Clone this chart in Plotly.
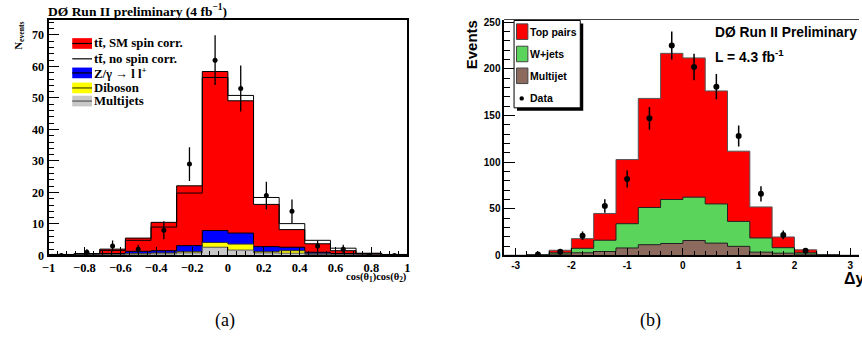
import numpy as np
import plotly.graph_objects as go

W, H = 862, 343

# ---------------- Panel (a): cos(theta1)cos(theta2) ----------------
a_edges = list(np.linspace(-1.0, 1.0, 15))
a_multijet = [0.1, 0.1, 0.2, 0.4, 0.5, 0.8, 2.6, 1.7, 0.8, 0.7, 0.3, 0.2, 0.1, 0.05]
a_diboson  = [0.0, 0.0, 0.1, 0.2, 0.3, 0.4, 1.5, 1.9, 0.4, 0.8, 0.2, 0.1, 0.0, 0.0]
a_zll      = [0.1, 0.2, 0.3, 0.7, 0.7, 1.9, 3.8, 3.5, 1.6, 1.1, 0.5, 0.3, 0.1, 0.1]
a_tt_sm    = [0.1, 0.2, 1.4, 4.2, 9.0, 19.0, 50.5, 42.0, 13.4, 5.6, 2.7, 0.9, 0.4, 0.15]
a_tt_nosc  = [0.1, 0.3, 1.0, 3.5, 7.5, 16.7, 48.6, 43.7, 15.6, 7.5, 3.8, 1.7, 0.5, 0.15]
a_data     = [0, 1, 3, 2, 8, 29, 62, 53, 19, 14, 3, 2, 0, 0]

# ---------------- Panel (b): Delta y ----------------
b_edges = list(np.linspace(-3.2, 3.2, 17))
b_multijet = [0, 0.3, 1.5, 2.8, 4.2, 8.0, 11.5, 12.8, 16.0, 13.2, 9.7, 3.5, 2.4, 1.4, 0.3, 0]
b_wjets    = [0, 0.3, 1.3, 4.8, 12.1, 26.0, 39.9, 47.2, 46.5, 42.0, 26.8, 15.2, 5.9, 1.4, 0.3, 0]
b_top      = [0, 0.2, 2.7, 10.4, 28.7, 68.8, 117.0, 156.7, 149.3, 121.2, 75.3, 33.3, 11.5, 3.2, 0.2, 0]
b_data     = [0, 1, 4, 21, 53, 82, 147, 225, 202, 181, 128, 66, 22, 5, 0, 0]

SERIF = "Liberation Serif"
SANS = "Liberation Sans"


def step_xy(edges, vals):
    n = len(vals)
    x = [edges[0]] + list(edges[:n]) + [edges[n], edges[n]]
    y = [0] + list(vals) + [vals[-1], 0]
    return x, y


def cum(*arrs):
    return list(np.sum(np.array(arrs, dtype=float), axis=0))


def centers(edges):
    e = np.array(edges)
    return list((e[:-1] + e[1:]) / 2)


fig = go.Figure()

# ---- panel (a) stack ----
a_stack = [
    (cum(a_multijet, a_diboson, a_zll, a_tt_sm), "#ff0000", "black"),
    (cum(a_multijet, a_diboson, a_zll), "#0000ff", "black"),
    (cum(a_multijet, a_diboson), "#ffff00", "#333333"),
    (cum(a_multijet), "#c8c8c8", "#555555"),
]
for vals, fc, lc in a_stack:
    x, y = step_xy(a_edges, vals)
    fig.add_trace(go.Scatter(x=x, y=y, mode="lines", line=dict(shape="hv", color=lc, width=1),
                             fill="toself", fillcolor=fc, xaxis="x", yaxis="y",
                             showlegend=False, hoverinfo="skip"))
x, y = step_xy(a_edges, cum(a_multijet, a_diboson, a_zll, a_tt_nosc))
fig.add_trace(go.Scatter(x=x, y=y, mode="lines", line=dict(shape="hv", color="black", width=1),
                         xaxis="x", yaxis="y", showlegend=False, hoverinfo="skip"))
fig.add_trace(go.Scatter(x=centers(a_edges), y=a_data, mode="markers",
                         marker=dict(color="black", size=5),
                         error_y=dict(type="data", array=list(np.sqrt(a_data)), width=0,
                                      thickness=1.3, color="black"),
                         xaxis="x", yaxis="y", showlegend=False))

# ---- panel (b) stack ----
b_stack = [
    (cum(b_multijet, b_wjets, b_top), "#ff0000", "#555555"),
    (cum(b_multijet, b_wjets), "#5ad45a", "#222222"),
    (cum(b_multijet), "#8c6b5e", "#222222"),
]
for vals, fc, lc in b_stack:
    x, y = step_xy(b_edges, vals)
    fig.add_trace(go.Scatter(x=x, y=y, mode="lines", line=dict(shape="hv", color=lc, width=1),
                             fill="toself", fillcolor=fc, xaxis="x2", yaxis="y2",
                             showlegend=False, hoverinfo="skip"))
bc = centers(b_edges)
bx = [c for c, d in zip(bc, b_data) if d > 0]
bd = [d for d in b_data if d > 0]
fig.add_trace(go.Scatter(x=bx, y=bd, mode="markers",
                         marker=dict(color="black", size=6),
                         error_y=dict(type="data", array=list(np.sqrt(bd)), width=0,
                                      thickness=1.5, color="black"),
                         xaxis="x2", yaxis="y2", showlegend=False))


def px(v):
    return v / W


def py(v):
    return 1 - v / H


fig.update_layout(
    width=W, height=H, margin=dict(l=0, r=0, t=0, b=0),
    paper_bgcolor="white", plot_bgcolor="white",
    xaxis=dict(domain=[px(42), px(405)], range=[-1, 1], anchor="y",
               showline=True, linewidth=2, linecolor="black", mirror=True,
               ticks="inside", ticklen=8, tickcolor="black", tick0=-1, dtick=0.2,
               minor=dict(dtick=0.05, ticklen=4, ticks="inside", tickcolor="black"),
               showgrid=False, zeroline=False,
               tickfont=dict(family=SERIF, size=12.5, color="black", weight="bold")),
    yaxis=dict(domain=[py(260), py(18)], range=[0, 74.6], anchor="x",
               showline=True, linewidth=2, linecolor="black", mirror=True,
               ticks="inside", ticklen=10, tickcolor="black", dtick=10,
               minor=dict(dtick=2, ticklen=5, ticks="inside", tickcolor="black"),
               showgrid=False, zeroline=False,
               tickfont=dict(family=SERIF, size=12, color="black", weight="bold")),
    xaxis2=dict(domain=[px(503.3), 1.0], range=[-3.2, 3.158], anchor="y2",
                showline=True, linewidth=2, linecolor="black",
                ticks="inside", ticklen=7, tickcolor="black",
                tickvals=[-3, -2, -1, 0, 1, 2, 3],
                ticktext=["-3", "-2", "-1", "0", "1", "2", "3"],
                minor=dict(dtick=0.2, tick0=-3, ticklen=4, ticks="inside", tickcolor="black"),
                showgrid=False, zeroline=False,
                tickfont=dict(family=SANS, size=10, color="black", weight="bold")),
    yaxis2=dict(domain=[py(260), py(17)], range=[0, 253], anchor="x2",
                showline=True, linewidth=2, linecolor="black",
                ticks="inside", ticklen=11, tickcolor="black", dtick=50,
                minor=dict(dtick=10, ticklen=6, ticks="inside", tickcolor="black"),
                showgrid=False, zeroline=False,
                tickfont=dict(family=SANS, size=10, color="black", weight="bold")),
)

shapes = []
ann = []

# right panel top frame line
shapes.append(dict(type="line", xref="paper", yref="paper", x0=px(503), x1=1.0,
                   y0=py(17), y1=py(17), line=dict(color="#444444", width=1)))

# ---- left legend ----
leg_a = [
    ("tt\u0304, SM spin corr.", "#ff0000", "black", 41.7),
    ("tt\u0304, no spin corr.", None, "black", 57.5),
    ("Z/\u03b3 \u2192 l l<sup>+</sup>", "#0000ff", "black", 72.0),
    ("Diboson", "#ffff00", "#444400", 87.5),
    ("Multijets", "#c8c8c8", "#555555", 101.0),
]
for label, fc, lc, yc in leg_a:
    if fc is not None:
        shapes.append(dict(type="rect", xref="paper", yref="paper", x0=px(66), x1=px(86),
                           y0=py(yc + 5.5), y1=py(yc - 5.5), fillcolor=fc, line=dict(width=0)))
    shapes.append(dict(type="line", xref="paper", yref="paper", x0=px(66), x1=px(86),
                       y0=py(yc), y1=py(yc), line=dict(color=lc, width=1.2)))
    ann.append(dict(x=px(86), y=py(yc), xref="paper", yref="paper", text=label,
                    showarrow=False, xanchor="left", yanchor="middle",
                    font=dict(family=SERIF, size=12.8, color="black", weight="bold")))

# ---- right legend ----
shapes.append(dict(type="rect", xref="paper", yref="paper", x0=px(516), x1=px(583),
                   y0=py(111), y1=py(21), fillcolor="black", line=dict(width=0)))
shapes.append(dict(type="rect", xref="paper", yref="paper", x0=px(513), x1=px(580),
                   y0=py(108), y1=py(18), fillcolor="white", line=dict(color="black", width=1)))
leg_b = [("Top pairs", "#ff0000", 29.5), ("W+jets", "#5ad45a", 52.5), ("Multijet", "#8c6b5e", 75.0)]
for label, fc, yc in leg_b:
    shapes.append(dict(type="rect", xref="paper", yref="paper", x0=px(515.5), x1=px(527),
                       y0=py(yc + 8), y1=py(yc - 8), fillcolor=fc,
                       line=dict(color="#444444", width=1)))
    ann.append(dict(x=px(527.5), y=py(yc), xref="paper", yref="paper", text=label,
                    showarrow=False, xanchor="left", yanchor="middle",
                    font=dict(family=SANS, size=10.5, color="black", weight="bold")))
shapes.append(dict(type="circle", xref="paper", yref="paper", x0=px(518.5), x1=px(523),
                   y0=py(100.5), y1=py(96), fillcolor="black", line=dict(width=0)))
ann.append(dict(x=px(527.5), y=py(98.3), xref="paper", yref="paper", text="Data",
                showarrow=False, xanchor="left", yanchor="middle",
                font=dict(family=SANS, size=10.5, color="black", weight="bold")))

# ---- titles and labels ----
ann += [
    dict(x=px(39), y=py(8), text="D\u00d8 Run II preliminary (4 fb<sup>\u22121</sup>)",
         font=dict(family=SERIF, size=13.5, color="black", weight="bold")),
    dict(x=px(12), y=py(34), text="N<sub>events</sub>", textangle=-90, xanchor="center",
         font=dict(family=SERIF, size=11, color="black", weight="bold")),
    dict(x=px(407), y=py(283), text="cos(\u03b8<sub>1</sub>)cos(\u03b8<sub>2</sub>)", xanchor="right",
         font=dict(family=SERIF, size=10.5, color="black", weight="bold")),
    dict(x=px(470), y=py(43), text="Events", textangle=-90, xanchor="center",
         font=dict(family=SANS, size=15, color="black", weight="bold")),
    dict(x=px(845), y=py(284), text="\u0394y",
         font=dict(family=SANS, size=16, color="black", weight="bold")),
    dict(x=px(714), y=py(30), text="D\u00d8 Run II Preliminary",
         font=dict(family=SANS, size=13.8, color="black", weight="bold")),
    dict(x=px(714), y=py(55), text="L = 4.3 fb<sup>-1</sup>",
         font=dict(family=SANS, size=13.8, color="black", weight="bold")),
    dict(x=px(221), y=py(327), text="(a)", xanchor="center",
         font=dict(family=SERIF, size=18, color="black")),
    dict(x=px(651), y=py(327), text="(b)", xanchor="center",
         font=dict(family=SERIF, size=18, color="black")),
]
for a in ann:
    a.setdefault("xref", "paper")
    a.setdefault("yref", "paper")
    a.setdefault("showarrow", False)
    a.setdefault("xanchor", "left")
    a.setdefault("yanchor", "middle")

fig.update_layout(shapes=shapes, annotations=ann)
fig.write_html("out.html")
